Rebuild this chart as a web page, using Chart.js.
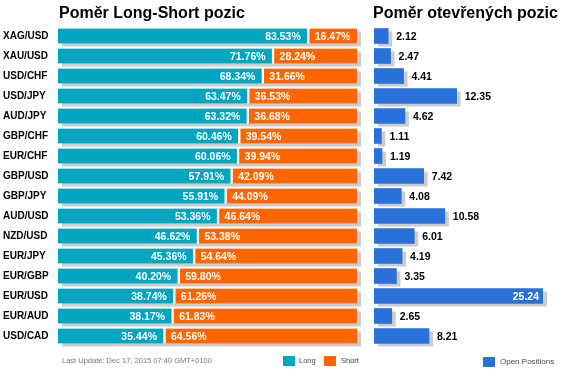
<!DOCTYPE html>
<html>
<head>
<meta charset="utf-8">
<script src="https://cdn.jsdelivr.net/npm/chart.js@4"></script>
<style>
  body { margin: 0; background: #fff; font-family: "Liberation Sans", Arial, sans-serif; }
  #wrap { position: relative; width: 565px; height: 377px; overflow: hidden; }
  canvas { position: absolute; top: 0; }
  .title { position: absolute; top: 5px; font-weight: bold; font-size: 16px; line-height: 16px; color: #000; white-space: nowrap; }
  .foot { position: absolute; font-size: 7.5px; line-height: 10px; white-space: nowrap; }
  .box { position: absolute; width: 12px; height: 10px; }
</style>
</head>
<body>
<div id="wrap">
  <canvas id="ratioChart" width="368" height="377" style="left:0"></canvas>
  <canvas id="openChart" width="197" height="377" style="left:368px"></canvas>
  <div class="title" style="left:59px">Poměr Long-Short pozic</div>
  <div class="title" style="left:373px">Poměr otevřených pozic</div>
  <div class="foot" style="left:62px; top:356px; color:#777">Last Update: Dec 17, 2015 07:40 GMT+0100</div>
  <div class="box" style="left:283px; top:356px; background:#00a5bf"></div>
  <div class="foot" style="left:299px; top:356px; color:#444">Long</div>
  <div class="box" style="left:324px; top:356px; background:#ff6600"></div>
  <div class="foot" style="left:341px; top:356px; color:#444">Short</div>
  <div class="box" style="left:483px; top:357px; background:#2a70d9"></div>
  <div class="foot" style="left:500px; top:357px; color:#444; font-size:8px">Open Positions</div>
</div>
<script>
const pairs = ['XAG/USD', 'XAU/USD', 'USD/CHF', 'USD/JPY', 'AUD/JPY', 'GBP/CHF', 'EUR/CHF', 'GBP/USD',
  'GBP/JPY', 'AUD/USD', 'NZD/USD', 'EUR/JPY', 'EUR/GBP', 'EUR/USD', 'EUR/AUD', 'USD/CAD'];
const longPct = [83.53, 71.76, 68.34, 63.47, 63.32, 60.46, 60.06, 57.91, 55.91, 53.36, 46.62, 45.36, 40.20, 38.74, 38.17, 35.44];
const shortPct = [16.47, 28.24, 31.66, 36.53, 36.68, 39.54, 39.94, 42.09, 44.09, 46.64, 53.38, 54.64, 59.80, 61.26, 61.83, 64.56];
const openPositions = [2.12, 2.47, 4.41, 12.35, 4.62, 1.11, 1.19, 7.42, 4.08, 10.58, 6.01, 4.19, 3.35, 25.24, 2.65, 8.21];

const FONT = '"Liberation Sans", Arial, sans-serif';

// grey drop shadow behind each full bar row
const shadowPlugin = {
  id: 'shadow',
  beforeDatasetsDraw(chart) {
    const ctx = chart.ctx;
    const first = chart.getDatasetMeta(0).data;
    const last = chart.getDatasetMeta(chart.data.datasets.length - 1).data;
    ctx.save();
    ctx.fillStyle = '#cccccc';
    first.forEach((bar, i) => {
      const w = last[i].x - bar.base;
      ctx.fillRect(bar.base + 4, bar.y - bar.height / 2 + 3, w, bar.height);
    });
    ctx.restore();
  }
};

const ratioLabels = {
  id: 'ratioLabels',
  afterDatasetsDraw(chart) {
    const ctx = chart.ctx;
    ctx.save();
    ctx.font = 'bold 10.5px ' + FONT;
    ctx.fillStyle = '#fff';
    ctx.textBaseline = 'middle';
    chart.getDatasetMeta(0).data.forEach((bar, i) => {
      ctx.textAlign = 'right';
      ctx.fillText(longPct[i].toFixed(2) + '%', bar.x - 7, bar.y + 1);
    });
    chart.getDatasetMeta(1).data.forEach((bar, i) => {
      ctx.textAlign = 'left';
      ctx.fillText(shortPct[i].toFixed(2) + '%', bar.base + 7, bar.y + 1);
    });
    ctx.restore();
  }
};

const openLabels = {
  id: 'openLabels',
  afterDatasetsDraw(chart) {
    const ctx = chart.ctx;
    ctx.save();
    ctx.font = 'bold 10.5px ' + FONT;
    ctx.textBaseline = 'middle';
    chart.getDatasetMeta(0).data.forEach((bar, i) => {
      const txt = openPositions[i].toFixed(2);
      const w = ctx.measureText(txt).width;
      if (bar.x + 8 + w > chart.width) {
        ctx.fillStyle = '#fff';
        ctx.textAlign = 'right';
        ctx.fillText(txt, bar.x - 4, bar.y + 1);
      } else {
        ctx.fillStyle = '#000';
        ctx.textAlign = 'left';
        ctx.fillText(txt, bar.x + 8, bar.y + 1);
      }
    });
    ctx.restore();
  }
};

new Chart(document.getElementById('ratioChart').getContext('2d'), {
  type: 'bar',
  data: {
    labels: pairs,
    datasets: [
      {
        label: 'Long', data: longPct, backgroundColor: '#00a5bf', barThickness: 15,
        borderColor: '#ffffff', borderWidth: { left: 0, right: 1, top: 0, bottom: 0 }, borderSkipped: false
      },
      {
        label: 'Short', data: shortPct, backgroundColor: '#ff6600', barThickness: 15,
        borderColor: '#ffffff', borderWidth: { left: 2, right: 0, top: 0, bottom: 0 }, borderSkipped: false
      }
    ]
  },
  options: {
    indexAxis: 'y',
    responsive: false,
    animation: false,
    layout: { padding: { left: 3, right: 11, top: 26, bottom: 31 } },
    plugins: { legend: { display: false }, tooltip: { enabled: false } },
    scales: {
      x: { stacked: true, display: false, min: 0, max: 100 },
      y: {
        stacked: true,
        grid: { display: false },
        border: { display: false },
        afterFit(scale) { scale.width = 55; },
        ticks: {
          autoSkip: false, crossAlign: 'far', padding: 0, color: '#000',
          font: { family: FONT, size: 10, weight: 'bold' }
        }
      }
    }
  },
  plugins: [shadowPlugin, ratioLabels]
});

new Chart(document.getElementById('openChart').getContext('2d'), {
  type: 'bar',
  data: {
    labels: pairs,
    datasets: [
      { label: 'Open Positions', data: openPositions, backgroundColor: '#2a70d9', barThickness: 15 }
    ]
  },
  options: {
    indexAxis: 'y',
    responsive: false,
    animation: false,
    layout: { padding: { left: 6, right: 22, top: 26, bottom: 31 } },
    plugins: { legend: { display: false }, tooltip: { enabled: false } },
    scales: {
      x: { display: false, min: 0, max: Math.max(...openPositions) },
      y: { display: false }
    }
  },
  plugins: [shadowPlugin, openLabels]
});
</script>
</body>
</html>
